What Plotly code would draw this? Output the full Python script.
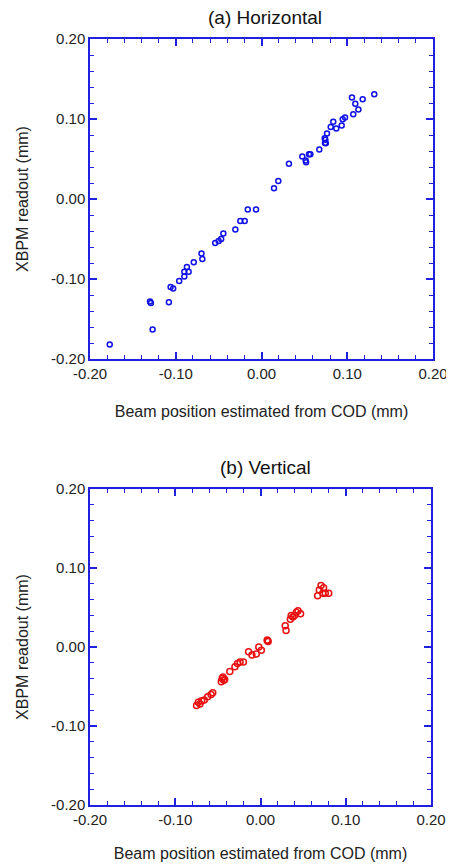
import plotly.graph_objects as go

# Horizontal panel data (mm)
h_cod = [-0.177, -0.127, -0.130, -0.129, -0.108, -0.106, -0.103, -0.096, -0.090, -0.090,
         -0.085, -0.087, -0.079, -0.070, -0.069, -0.054, -0.050, -0.047, -0.0445, -0.0305,
         -0.0247, -0.0196, -0.016, -0.0064, 0.0146, 0.0196, 0.032, 0.0476, 0.0515, 0.052,
         0.0554, 0.057, 0.0674, 0.0737, 0.074, 0.075, 0.0745, 0.0764, 0.0807, 0.0837,
         0.0872, 0.0935, 0.0947, 0.0974, 0.107, 0.113, 0.1094, 0.1055, 0.118, 0.1315]
h_xbpm = [-0.182, -0.163, -0.128, -0.130, -0.129, -0.110, -0.112, -0.1025, -0.097, -0.091,
          -0.091, -0.085, -0.079, -0.068, -0.075, -0.055, -0.0525, -0.050, -0.043, -0.038,
          -0.0275, -0.0275, -0.013, -0.013, 0.0134, 0.0225, 0.044, 0.053, 0.048, 0.046,
          0.056, 0.056, 0.062, 0.076, 0.070, 0.0696, 0.074, 0.082, 0.090, 0.0966,
          0.088, 0.092, 0.0996, 0.102, 0.106, 0.112, 0.119, 0.127, 0.1246, 0.131]

# Vertical panel data (mm)
v_cod = [-0.075, -0.073, -0.071, -0.069, -0.066, -0.062, -0.058, -0.056, -0.046, -0.045,
         -0.043, -0.044, -0.042, -0.036, -0.030, -0.027, -0.024, -0.020, -0.014, -0.010,
         -0.005, -0.002, 0.001, 0.008, 0.009, 0.008, 0.029, 0.030, 0.035, 0.036, 0.038,
         0.040, 0.042, 0.044, 0.047, 0.067, 0.069, 0.071, 0.074, 0.073, 0.076, 0.080]
v_xbpm = [-0.074, -0.070, -0.072, -0.068, -0.067, -0.063, -0.060, -0.058, -0.044, -0.040,
          -0.042, -0.038, -0.041, -0.031, -0.025, -0.021, -0.019, -0.019, -0.006, -0.010,
          -0.009, 0.000, -0.004, 0.008, 0.007, 0.009, 0.027, 0.021, 0.035, 0.040, 0.038,
          0.040, 0.044, 0.046, 0.042, 0.065, 0.072, 0.078, 0.075, 0.068, 0.068, 0.068]

tick_vals = [-0.2, -0.1, 0.0, 0.1, 0.2]
tick_text = ["-0.20", "-0.10", "0.00", "0.10", "0.20"]

axis_color = "#2020e0"
font_family = "Liberation Sans, Arial, sans-serif"

fig = go.Figure()
fig.add_trace(go.Scatter(x=h_cod, y=h_xbpm, mode="markers", xaxis="x", yaxis="y",
                         marker=dict(symbol="circle-open", size=5, color="#1010e8",
                                     line=dict(width=1.5, color="#1010e8")),
                         showlegend=False))
fig.add_trace(go.Scatter(x=v_cod, y=v_xbpm, mode="markers", xaxis="x2", yaxis="y2",
                         marker=dict(symbol="circle-open", size=6, color="#e81010",
                                     line=dict(width=1.5, color="#e81010")),
                         showlegend=False))

def ax(domain, anchor, title, standoff):
    return dict(domain=domain, anchor=anchor, range=[-0.2, 0.2], tickvals=tick_vals,
                ticktext=tick_text, ticks="inside", ticklen=7, tickwidth=1.5,
                tickcolor=axis_color, showline=True, linecolor=axis_color, linewidth=1.5,
                mirror="ticks", showgrid=False, zeroline=False, automargin=False,
                tickfont=dict(family=font_family, size=15, color="#222"),
                minor=dict(dtick=0.02, ticks="inside", ticklen=4, tickwidth=1.2,
                           tickcolor=axis_color, showgrid=False),
                title=dict(text=title, standoff=standoff,
                           font=dict(family=font_family, size=16, color="#222")))

# page body has an 8px margin: layout coords = picture coords - 8
O = 8
W, H = 454, 865
fig.update_layout(
    width=W, height=H, margin=dict(l=0, r=0, t=0, b=0),
    plot_bgcolor="white", paper_bgcolor="white",
    xaxis=ax([(90 - O) / W, (433 - O) / W], "y", "Beam position estimated from COD (mm)", 25),
    yaxis=ax([1 - (359 - O) / H, 1 - (39 - O) / H], "x", "XBPM readout (mm)", 18),
    xaxis2=ax([(90 - O) / W, (431 - O) / W], "y2", "Beam position estimated from COD (mm)", 21),
    yaxis2=ax([1 - (805 - O) / H, 1 - (489 - O) / H], "x2", "XBPM readout (mm)", 18),
    annotations=[
        dict(text="(a) Horizontal", x=(265 - O) / W, y=1 - (17 - O) / H, xref="paper", yref="paper",
             xanchor="center", yanchor="middle", showarrow=False,
             font=dict(family=font_family, size=19, color="#111")),
        dict(text="(b) Vertical", x=(265 - O) / W, y=1 - (467 - O) / H, xref="paper", yref="paper",
             xanchor="center", yanchor="middle", showarrow=False,
             font=dict(family=font_family, size=19, color="#111")),
    ],
)

fig.write_html("out.html")
